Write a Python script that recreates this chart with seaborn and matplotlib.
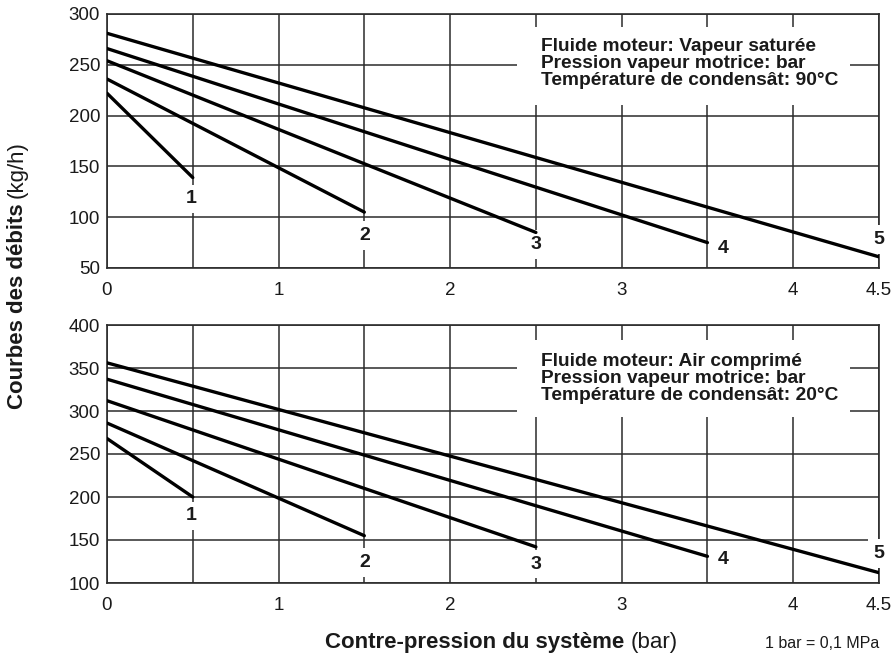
import matplotlib
matplotlib.use("Agg")
import matplotlib.pyplot as plt
import seaborn as sns
import pandas as pd
from matplotlib.patches import Rectangle

# ---------------- data ----------------
curves = ["1", "2", "3", "4", "5"]
x_start = [0, 0, 0, 0, 0]
x_end = [0.5, 1.5, 2.5, 3.5, 4.5]

vap_start = [222, 236, 254, 266, 281]
vap_end = [139, 105, 85, 75, 61]
air_start = [268, 286, 312, 337, 356]
air_end = [200, 155, 142, 131, 112]

vap_label_x = [0.49, 1.5, 2.5, 3.59, 4.5]
vap_label_y = [118, 82, 73, 69, 78]
air_label_x = [0.49, 1.5, 2.5, 3.59, 4.5]
air_label_y = [178, 124, 122, 127, 134]

x_ticks = [0, 0.5, 1, 1.5, 2, 2.5, 3, 3.5, 4, 4.5]
x_ticklabels = ["0", "", "1", "", "2", "", "3", "", "4", "4.5"]
vap_yticks = [50, 100, 150, 200, 250, 300]
air_yticks = [100, 150, 200, 250, 300, 350, 400]

vap_text = ["Fluide moteur: Vapeur saturée",
            "Pression vapeur motrice: bar",
            "Température de condensât: 90°C"]
air_text = ["Fluide moteur: Air comprimé",
            "Pression vapeur motrice: bar",
            "Température de condensât: 20°C"]

ylabel_bold = "Courbes des débits"
ylabel_reg = "(kg/h)"
xlabel_bold = "Contre-pression du système"
xlabel_reg = "(bar)"
note = "1 bar = 0,1 MPa"

# ---------------- style ----------------
sns.set_theme(style="white")
plt.rcParams["font.family"] = ["Liberation Sans", "DejaVu Sans"]
GRID = "#2b2b2b"
INK = "#1a1a1a"

W, H = 893, 655
fig = plt.figure(figsize=(W / 100, H / 100), dpi=100)
ax1 = fig.add_axes([107 / W, 1 - 268 / H, 772 / W, 254 / H])
ax2 = fig.add_axes([107 / W, 1 - 583 / H, 772 / W, 258 / H])


def build(starts, ends):
    rows = []
    for c, xs, xe, s, e in zip(curves, x_start, x_end, starts, ends):
        rows.append({"curve": c, "x": xs, "y": s})
        rows.append({"curve": c, "x": xe, "y": e})
    return pd.DataFrame(rows)


def panel(ax, starts, ends, yticks, lx, ly, texts, box):
    df = build(starts, ends)
    sns.lineplot(data=df, x="x", y="y", units="curve", estimator=None,
                 color="black", lw=2.4, ax=ax, zorder=3, legend=False)
    ax.set_xlim(0, 4.5)
    ax.set_ylim(yticks[0], yticks[-1])
    ax.set_xticks(x_ticks)
    ax.set_xticklabels(x_ticklabels)
    ax.set_yticks(yticks)
    ax.set_yticklabels([str(v) for v in yticks])
    ax.tick_params(length=0, labelsize=13.5, colors=INK)
    ax.tick_params(axis="x", pad=10)
    ax.tick_params(axis="y", pad=5)
    ax.set_xlabel("")
    ax.set_ylabel("")
    ax.grid(True, color=GRID, lw=1.1)
    ax.set_axisbelow(True)
    for sp in ax.spines.values():
        sp.set_visible(True)
        sp.set_color(GRID)
        sp.set_linewidth(1.2)
    # white background behind annotation text
    ax.add_patch(Rectangle((box[0], box[1]), box[2], box[3], transform=ax.transAxes,
                           facecolor="white", edgecolor="none", zorder=1.5))
    ax.text(0.562, box[4], "\n".join(texts), transform=ax.transAxes,
            ha="left", va="top", fontsize=13.8, fontweight="bold",
            color=INK, linespacing=1.0, zorder=4)
    for c, x, y in zip(curves, lx, ly):
        ax.text(x, y, c, ha="center", va="center", fontsize=14,
                fontweight="bold", color=INK, zorder=2.8, clip_on=False,
                bbox=dict(boxstyle="square,pad=0.3", facecolor="white",
                          edgecolor="none"))


panel(ax1, vap_start, vap_end, vap_yticks, vap_label_x, vap_label_y, vap_text,
      (0.531, 0.642, 0.431, 0.307, 0.905))
panel(ax2, air_start, air_end, air_yticks, air_label_x, air_label_y, air_text,
      (0.531, 0.643, 0.431, 0.299, 0.893))

# ------------- mixed-weight axis labels -------------
fig.canvas.draw()
r = fig.canvas.get_renderer()
fs = 16
space = 0.28 * fs * 100 / 72

# x label
yb = 1 - 648 / H
t1 = fig.text(0, yb, xlabel_bold, fontsize=fs, fontweight="bold", ha="left",
              va="baseline", color=INK)
t2 = fig.text(0, yb, xlabel_reg, fontsize=fs, ha="left", va="baseline",
              color=INK)
w1 = t1.get_window_extent(r).width
w2 = t2.get_window_extent(r).width
x0 = 325
t1.set_x(x0 / W)
t2.set_x((x0 + w1 + space) / W)

# y label (rotated)
xc = 17.5 / W
u1 = fig.text(xc, 0, ylabel_bold, fontsize=fs, fontweight="bold", rotation=90,
              ha="center", va="bottom", color=INK)
u2 = fig.text(xc, 0, ylabel_reg, fontsize=fs, rotation=90,
              ha="center", va="bottom", color=INK)
h1 = u1.get_window_extent(r).height
h2 = u2.get_window_extent(r).height
yc = H - 275
y0 = yc - (h1 + space + h2) / 2
u1.set_y(y0 / H)
u2.set_y((y0 + h1 + space) / H)

fig.text(879 / W, yb, note, fontsize=11.5, ha="right", va="baseline",
         color=INK)

fig.savefig("out.png", dpi=100)
